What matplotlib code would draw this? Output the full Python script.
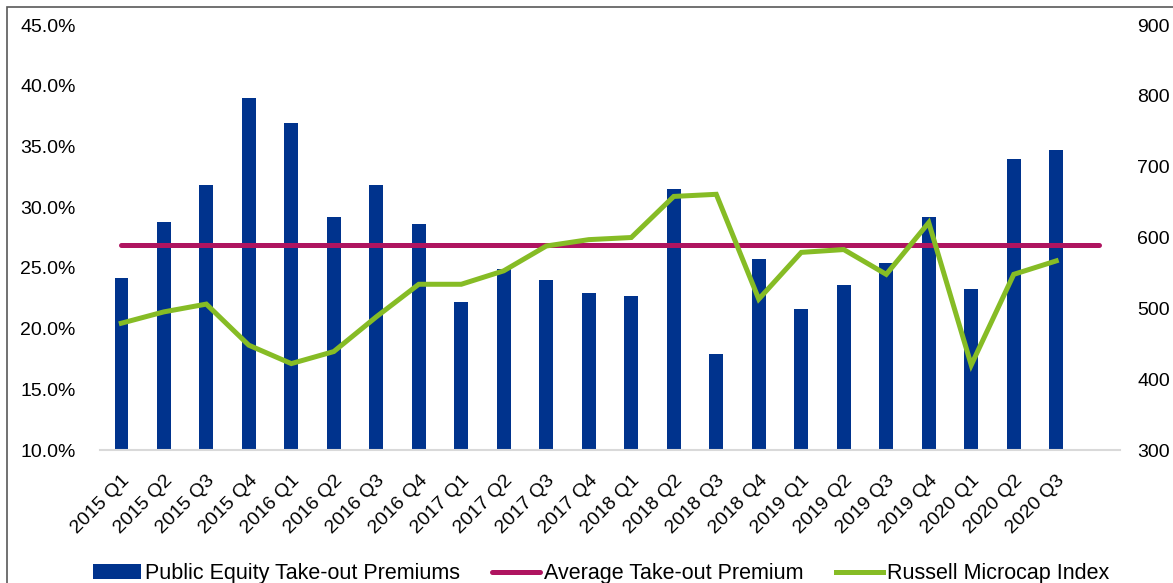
import matplotlib
matplotlib.use('Agg')
import matplotlib.pyplot as plt
from matplotlib.patches import Rectangle
from matplotlib.ticker import FuncFormatter
import numpy as np

plt.rcParams['font.family'] = ['Liberation Sans', 'DejaVu Sans']

# quarterly take-out premiums (%) and Russell Microcap index level
quarters = ['2015 Q1', '2015 Q2', '2015 Q3', '2015 Q4',
            '2016 Q1', '2016 Q2', '2016 Q3', '2016 Q4',
            '2017 Q1', '2017 Q2', '2017 Q3', '2017 Q4',
            '2018 Q1', '2018 Q2', '2018 Q3', '2018 Q4',
            '2019 Q1', '2019 Q2', '2019 Q3', '2019 Q4',
            '2020 Q1', '2020 Q2', '2020 Q3']
premiums = [24.2, 28.8, 31.8, 39.0, 36.9, 29.2, 31.8, 28.6,
            22.2, 24.9, 24.0, 22.9, 22.7, 31.5, 17.9, 25.7,
            21.6, 23.6, 25.4, 29.2, 23.3, 34.0, 34.7]
microcap = [479, 495, 506, 448, 422, 439, 488, 534,
            534, 553, 588, 597, 600, 658, 661, 513,
            579, 583, 548, 621, 420, 548, 567]
avg_premium = 26.9

NAVY = '#00338D'
MAGENTA = '#AF1460'
GREEN = '#86BC25'

fig = plt.figure(figsize=(11.73, 5.83), dpi=100)
ax = fig.add_axes([0.0853, 0.2281, 0.8695, 0.729])
ax2 = ax.twinx()

x = np.arange(len(quarters))
bars = ax.bar(x, premiums, width=0.32, color=NAVY, zorder=2,
              label='Public Equity Take-out Premiums')
# average line runs one slot past the last quarter
avg_line, = ax.plot([0, len(quarters)], [avg_premium, avg_premium],
                    color=MAGENTA, lw=3.6, solid_capstyle='round', zorder=3,
                    label='Average Take-out Premium')
idx_line, = ax2.plot(x, microcap, color=GREEN, lw=3.6, zorder=4,
                     solid_joinstyle='miter', label='Russell Microcap Index')

ax.set_xlim(-0.5, len(quarters) + 0.5)
ax.set_ylim(10, 45)
ax.set_yticks(np.arange(10, 46, 5))
ax.yaxis.set_major_formatter(FuncFormatter(lambda v, p: f'{v:.1f}%'))
ax2.set_ylim(300, 900)
ax2.set_yticks(np.arange(300, 901, 100))

ax.set_xticks(x)
ax.set_xticklabels(quarters, rotation=45, ha='right', va='top',
                   rotation_mode='anchor')

for a in (ax, ax2):
    for s in ('top', 'left', 'right', 'bottom'):
        a.spines[s].set_visible(False)
ax.spines['bottom'].set_visible(True)
ax.spines['bottom'].set_color('#D9D9D9')
ax.spines['bottom'].set_linewidth(1.5)

ax.tick_params(axis='y', length=0, pad=17.5, labelsize=14)
ax.tick_params(axis='x', length=0, pad=16, labelsize=14)
ax2.tick_params(axis='y', length=0, pad=12.5, labelsize=14)
ax2.patch.set_visible(False)

fig.legend(handles=[bars, avg_line, idx_line], loc='center',
           bbox_to_anchor=(0.5128, 0.016), ncol=3, frameon=False,
           fontsize=15.5, handlelength=2.2, handletextpad=0.2,
           columnspacing=1.5)

# outer frame of the exhibit
fig.patches.append(Rectangle((7 / 1173, -0.5), 2.0, 1.5 - 7 / 583,
                             transform=fig.transFigure, fill=False,
                             edgecolor='#595959', lw=1.2))

fig.savefig('out.png', dpi=100)
